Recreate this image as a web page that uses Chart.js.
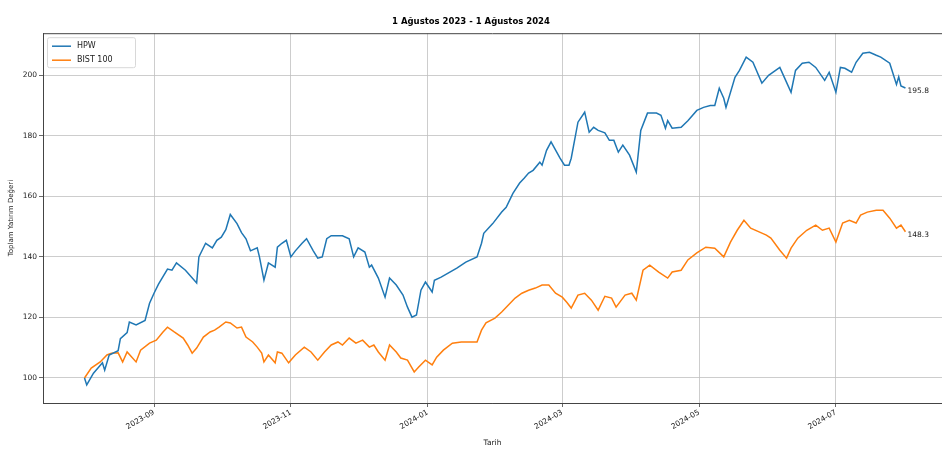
<!DOCTYPE html>
<html><head><meta charset="utf-8">
<script src="https://cdn.jsdelivr.net/npm/chart.js@4.4.1/dist/chart.umd.min.js"></script>
<style>html,body{margin:0;padding:0;background:#fff;}#wrap{width:942px;height:451px;}</style>
</head><body><div id="wrap"><canvas id="c" width="942" height="451"></canvas></div>
<script>
const titleText = '1 Ağustos 2023 - 1 Ağustos 2024';
const seriesNames = ['HPW', 'BIST 100'];
const xAxisTitle = 'Tarih';
const yAxisTitle = 'Toplam Yatırım Değeri';
const startDate = '2023-08-01';

const hpwDates = ['2023-08-01','2023-08-02','2023-08-05','2023-08-09','2023-08-10','2023-08-12','2023-08-16','2023-08-17','2023-08-20','2023-08-21','2023-08-24','2023-08-28','2023-08-30','2023-09-01','2023-09-03','2023-09-07','2023-09-09','2023-09-11','2023-09-15','2023-09-20','2023-09-21','2023-09-24','2023-09-27','2023-09-29','2023-10-01','2023-10-03','2023-10-05','2023-10-08','2023-10-10','2023-10-12','2023-10-14','2023-10-17','2023-10-18','2023-10-20','2023-10-22','2023-10-25','2023-10-26','2023-10-28','2023-10-30','2023-11-01','2023-11-03','2023-11-06','2023-11-08','2023-11-11','2023-11-13','2023-11-15','2023-11-17','2023-11-19','2023-11-24','2023-11-27','2023-11-29','2023-12-01','2023-12-04','2023-12-06','2023-12-07','2023-12-10','2023-12-13','2023-12-15','2023-12-18','2023-12-21','2023-12-23','2023-12-25','2023-12-27','2023-12-29','2023-12-31','2024-01-03','2024-01-04','2024-01-07','2024-01-14','2024-01-18','2024-01-23','2024-01-25','2024-01-26','2024-01-30','2024-02-03','2024-02-05','2024-02-08','2024-02-11','2024-02-13','2024-02-15','2024-02-17','2024-02-20','2024-02-21','2024-02-23','2024-02-25','2024-02-29','2024-03-02','2024-03-04','2024-03-05','2024-03-08','2024-03-11','2024-03-13','2024-03-15','2024-03-17','2024-03-20','2024-03-22','2024-03-24','2024-03-26','2024-03-28','2024-03-31','2024-04-03','2024-04-05','2024-04-08','2024-04-12','2024-04-14','2024-04-16','2024-04-17','2024-04-19','2024-04-23','2024-04-26','2024-04-30','2024-05-03','2024-05-06','2024-05-08','2024-05-10','2024-05-12','2024-05-13','2024-05-17','2024-05-19','2024-05-22','2024-05-25','2024-05-29','2024-06-01','2024-06-06','2024-06-08','2024-06-11','2024-06-13','2024-06-16','2024-06-19','2024-06-22','2024-06-26','2024-06-28','2024-07-01','2024-07-03','2024-07-05','2024-07-08','2024-07-10','2024-07-13','2024-07-16','2024-07-19','2024-07-21','2024-07-25','2024-07-28','2024-07-29','2024-07-30','2024-08-01'];
const hpwValues = [100,97.7,101.6,105,102.6,107.6,109,113,115,118.5,117.5,119,124.7,128,131,136,135.6,138,135.6,131.4,140,144.5,143,145.5,146.5,149,154,151,148,146,142,143,140,132.3,138,136.6,143.2,144.5,145.5,140,142,144.5,146,142,139.6,140,146,147,147,146,140,143,141.6,136.6,137.3,133,126.7,133,130.7,127.4,123.4,120.1,120.8,129,131.7,128.4,132.3,133.3,136.3,138.3,140,144.5,147.8,151,154.8,156.4,161,164.4,166,167.7,168.6,171.3,170.3,175.2,178,172.6,170.3,170.3,172.6,184.5,187.8,181.2,182.8,181.8,181,178.5,178.5,174.6,176.9,173.6,168,181.8,187.5,187.5,186.8,182.5,185,182.5,182.8,185,188.4,189.4,190,190,195.7,192.4,189.4,199.3,201.6,206,204.3,197.4,200,202.6,199.3,194.4,201.6,204,204.3,202.6,198.3,201,194.4,202.6,202.3,201,204.3,207.3,207.6,206.6,206,204,197,199.5,196.5,195.8];

const bistDates = ['2023-08-01','2023-08-04','2023-08-08','2023-08-11','2023-08-13','2023-08-16','2023-08-18','2023-08-20','2023-08-24','2023-08-26','2023-08-30','2023-09-02','2023-09-05','2023-09-07','2023-09-10','2023-09-14','2023-09-16','2023-09-18','2023-09-20','2023-09-23','2023-09-26','2023-09-28','2023-09-30','2023-10-03','2023-10-05','2023-10-08','2023-10-10','2023-10-12','2023-10-15','2023-10-17','2023-10-19','2023-10-20','2023-10-22','2023-10-25','2023-10-26','2023-10-28','2023-10-31','2023-11-03','2023-11-07','2023-11-10','2023-11-13','2023-11-16','2023-11-19','2023-11-22','2023-11-24','2023-11-27','2023-11-30','2023-12-03','2023-12-06','2023-12-08','2023-12-10','2023-12-13','2023-12-15','2023-12-18','2023-12-20','2023-12-23','2023-12-26','2023-12-28','2023-12-31','2024-01-03','2024-01-05','2024-01-08','2024-01-12','2024-01-16','2024-01-19','2024-01-23','2024-01-25','2024-01-27','2024-01-31','2024-02-03','2024-02-06','2024-02-09','2024-02-12','2024-02-15','2024-02-18','2024-02-21','2024-02-24','2024-02-27','2024-03-01','2024-03-03','2024-03-05','2024-03-08','2024-03-11','2024-03-14','2024-03-17','2024-03-20','2024-03-23','2024-03-25','2024-03-29','2024-04-01','2024-04-03','2024-04-06','2024-04-09','2024-04-13','2024-04-17','2024-04-19','2024-04-23','2024-04-26','2024-04-30','2024-05-04','2024-05-08','2024-05-12','2024-05-15','2024-05-18','2024-05-21','2024-05-24','2024-05-28','2024-05-31','2024-06-02','2024-06-06','2024-06-09','2024-06-11','2024-06-14','2024-06-18','2024-06-22','2024-06-25','2024-06-28','2024-07-01','2024-07-04','2024-07-07','2024-07-10','2024-07-12','2024-07-15','2024-07-19','2024-07-22','2024-07-25','2024-07-28','2024-07-30','2024-08-01'];
const bistValues = [100,103.3,105.3,107.6,108.2,108.3,105.3,108.6,105.3,109.2,111.5,112.5,115.2,116.8,115.2,113.2,110.9,108.2,109.9,113.5,115.2,115.8,116.8,118.5,118.2,116.5,116.8,113.5,111.9,110.2,108.2,105.3,107.6,105,108.6,108.2,105,107.6,110.2,108.6,105.9,108.6,110.9,111.9,110.9,113.2,111.5,112.5,110.2,110.9,108.6,105.9,110.9,108.6,106.6,105.9,102,103.6,105.9,104.3,106.9,109.2,111.5,111.9,111.9,111.9,115.8,118.2,119.8,121.8,124.1,126.4,128,129,129.7,130.7,130.7,128,126.7,125,123.1,127.4,128,125.7,122.4,127,126.4,123.4,127.4,128,125.7,135.6,137.3,135,133,135,135.6,139,141.3,143.2,142.9,140,144.9,148.8,152.1,149.5,148.2,147.2,146.2,142.2,139.6,142.9,146.2,148.8,150.5,148.8,149.5,144.9,151.2,152.1,151.2,153.8,154.8,155.4,155.4,152.8,149.5,150.5,148.3];

const xTickDates = ['2023-09-01','2023-11-01','2024-01-01','2024-03-01','2024-05-01','2024-07-01'];
const xTickLabels = ['2023-09','2023-11','2024-01','2024-03','2024-05','2024-07'];
const yTicks = [100,120,140,160,180,200];
const seriesColors = ['#1f77b4', '#ff7f0e'];

const dayOf = s => (Date.parse(s + 'T00:00:00Z') - Date.parse(startDate + 'T00:00:00Z')) / 86400000;
const FONT = 'DejaVu Sans';

const endLabels = {
  id: 'endLabels',
  afterDatasetsDraw(chart) {
    const ctx = chart.ctx;
    ctx.save();
    ctx.font = '7.5px "' + FONT + '"';
    ctx.fillStyle = '#222';
    ctx.textBaseline = 'middle';
    ctx.textAlign = 'left';
    chart.data.datasets.forEach((ds, i) => {
      const meta = chart.getDatasetMeta(i);
      const pt = meta.data[meta.data.length - 1];
      const v = ds.data[ds.data.length - 1].y;
      ctx.fillText(v.toFixed(1), pt.x + 2, pt.y + 3);
    });
    ctx.restore();
  }
};

const frameAndLegend = {
  id: 'frameAndLegend',
  afterDraw(chart) {
    const ctx = chart.ctx, a = chart.chartArea;
    ctx.save();
    // top spine
    ctx.strokeStyle = '#444';
    ctx.lineWidth = 1;
    ctx.beginPath();
    ctx.moveTo(a.left, a.top + 0.5); ctx.lineTo(a.right, a.top + 0.5);
    ctx.stroke();
    // legend box
    const bx = a.left + 4, by = a.top + 4, bw = 88, bh = 30;
    ctx.fillStyle = 'rgba(255,255,255,0.8)';
    ctx.strokeStyle = '#d8d8d8';
    ctx.beginPath();
    ctx.roundRect(bx + 0.5, by + 0.5, bw, bh, 2);
    ctx.fill(); ctx.stroke();
    ctx.font = '8px "' + FONT + '"';
    ctx.textBaseline = 'middle';
    ctx.fillStyle = '#222';
    chart.data.datasets.forEach((ds, i) => {
      const y = by + 9 + i * 14;
      ctx.strokeStyle = ds.borderColor;
      ctx.lineWidth = 1.5;
      ctx.beginPath();
      ctx.moveTo(bx + 5, y); ctx.lineTo(bx + 24, y);
      ctx.stroke();
      ctx.fillText(ds.label, bx + 30, y);
    });
    ctx.restore();
  }
};

new Chart(document.getElementById('c'), {
  type: 'line',
  data: {
    datasets: [
      { label: seriesNames[0], data: hpwDates.map((d, i) => ({ x: dayOf(d), y: hpwValues[i] })), borderColor: seriesColors[0], borderWidth: 1.5, pointRadius: 0, tension: 0, fill: false },
      { label: seriesNames[1], data: bistDates.map((d, i) => ({ x: dayOf(d), y: bistValues[i] })), borderColor: seriesColors[1], borderWidth: 1.5, pointRadius: 0, tension: 0, fill: false }
    ]
  },
  options: {
    responsive: false,
    animation: false,
    layout: { padding: { left: 0, right: 0, top: 0, bottom: 0 } },
    plugins: {
      legend: { display: false },
      tooltip: { enabled: false },
      title: { display: true, text: titleText, color: '#000', font: { family: FONT, size: 8.5, weight: 'bold' }, padding: { top: 17, bottom: 6 } }
    },
    scales: {
      x: {
        type: 'linear', min: -18.5, max: 382.3,
        afterBuildTicks: s => { s.ticks = xTickDates.map(d => ({ value: dayOf(d) })); },
        afterFit: s => { s.height = 48; },
        ticks: { callback: (v, i) => xTickLabels[i], minRotation: 30, maxRotation: 30, autoSkip: false, color: '#222', font: { family: FONT, size: 7.5 }, padding: 1 },
        grid: { color: '#c0c0c0', lineWidth: 0.8, tickLength: 4, tickColor: '#444' },
        border: { display: true, color: '#444', width: 1 },
        title: { display: true, text: xAxisTitle, color: '#222', font: { family: FONT, size: 7.5 }, padding: { top: 0, bottom: 3 } }
      },
      y: {
        type: 'linear', min: 91.74, max: 213.9,
        afterBuildTicks: s => { s.ticks = yTicks.map(v => ({ value: v })); },
        afterFit: s => { s.width = 43; },
        ticks: { color: '#222', font: { family: FONT, size: 7.5 }, padding: 2 },
        grid: { color: '#c0c0c0', lineWidth: 0.8, tickLength: 4, tickColor: '#444' },
        border: { display: true, color: '#444', width: 1 },
        title: { display: true, text: yAxisTitle, color: '#222', font: { family: FONT, size: 7 }, padding: { top: 7, bottom: 0 } }
      }
    }
  },
  plugins: [endLabels, frameAndLegend]
});
</script></body></html>
